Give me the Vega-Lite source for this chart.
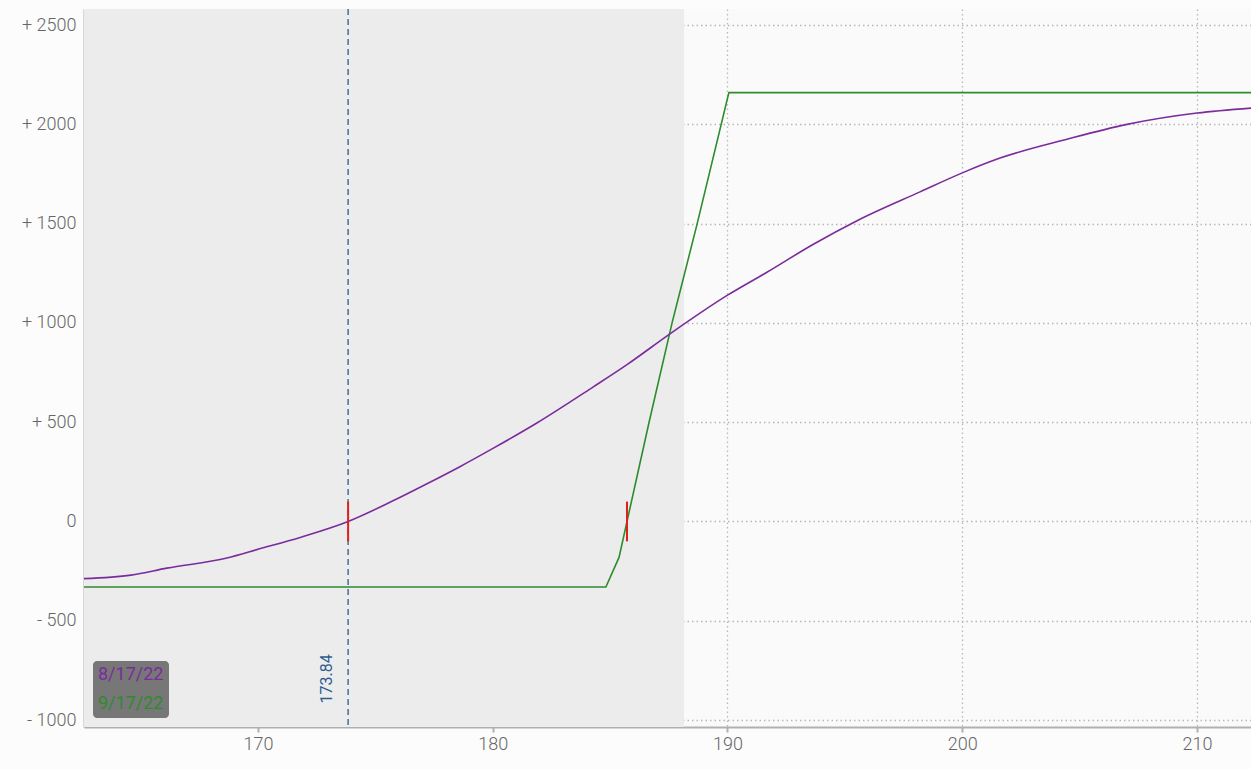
{
  "$schema": "https://vega.github.io/schema/vega-lite/v6.json",
  "width": 1167,
  "height": 718,
  "autosize": {"type": "none"},
  "padding": {"left": 84, "top": 9, "right": 0, "bottom": 42},
  "background": "#fcfcfc",
  "config": {
    "view": {"fill": "#fafafa", "stroke": null},
    "font": "Roboto",
    "axisX": {
      "grid": true, "gridColor": "#b8b8b8", "gridDash": [1.5, 3], "gridWidth": 1.3,
      "domainColor": "#b0b0b0", "domainWidth": 2,
      "tickColor": "#b0b0b0", "tickSize": 5, "tickWidth": 2,
      "labelFont": "Roboto", "labelFontSize": 18, "labelFontWeight": 300, "labelColor": "#666666", "labelPadding": 3,
      "title": null, "zindex": 1
    },
    "axisY": {
      "grid": true, "gridColor": "#b8b8b8", "gridDash": [1.5, 3], "gridWidth": 1.3,
      "domainColor": "#b0b0b0", "domainWidth": 2,
      "ticks": false,
      "labelFont": "Roboto", "labelFontSize": 18, "labelFontWeight": 300, "labelColor": "#666666", "labelPadding": 8,
      "title": null, "zindex": 1
    }
  },
  "datasets": {
    "aug": [
      {"price": 162.59, "pl": -288, "series": "8/17/22"},
      {"price": 164.59, "pl": -270, "series": "8/17/22"},
      {"price": 166.12, "pl": -235, "series": "8/17/22"},
      {"price": 168.68, "pl": -184, "series": "8/17/22"},
      {"price": 170.04, "pl": -139, "series": "8/17/22"},
      {"price": 171.83, "pl": -79, "series": "8/17/22"},
      {"price": 173.84, "pl": 0, "series": "8/17/22"},
      {"price": 175.75, "pl": 104, "series": "8/17/22"},
      {"price": 177.2, "pl": 190, "series": "8/17/22"},
      {"price": 178.6, "pl": 276, "series": "8/17/22"},
      {"price": 180.01, "pl": 368, "series": "8/17/22"},
      {"price": 181.88, "pl": 496, "series": "8/17/22"},
      {"price": 184.27, "pl": 677, "series": "8/17/22"},
      {"price": 185.72, "pl": 790, "series": "8/17/22"},
      {"price": 187.55, "pl": 945, "series": "8/17/22"},
      {"price": 190.02, "pl": 1141, "series": "8/17/22"},
      {"price": 191.68, "pl": 1255, "series": "8/17/22"},
      {"price": 193.64, "pl": 1395, "series": "8/17/22"},
      {"price": 195.52, "pl": 1515, "series": "8/17/22"},
      {"price": 198.2, "pl": 1660, "series": "8/17/22"},
      {"price": 200.03, "pl": 1757, "series": "8/17/22"},
      {"price": 201.61, "pl": 1830, "series": "8/17/22"},
      {"price": 204.46, "pl": 1925, "series": "8/17/22"},
      {"price": 207.02, "pl": 2000, "series": "8/17/22"},
      {"price": 210.0, "pl": 2057, "series": "8/17/22"},
      {"price": 212.3, "pl": 2082, "series": "8/17/22"}
    ],
    "sep": [
      {"price": 162.59, "pl": -330, "series": "9/17/22"},
      {"price": 184.82, "pl": -330, "series": "9/17/22"},
      {"price": 185.38, "pl": -181, "series": "9/17/22"},
      {"price": 185.72, "pl": 0, "series": "9/17/22"},
      {"price": 186.66, "pl": 500, "series": "9/17/22"},
      {"price": 187.64, "pl": 1000, "series": "9/17/22"},
      {"price": 188.71, "pl": 1500, "series": "9/17/22"},
      {"price": 190.06, "pl": 2160, "series": "9/17/22"},
      {"price": 212.3, "pl": 2160, "series": "9/17/22"}
    ],
    "zone": [{"from": 162.59, "to": 188.15}],
    "current": [{"price": 173.84}],
    "breakeven": [{"price": 173.84}, {"price": 185.72}]
  },
  "layer": [
    {
      "data": {"name": "zone"},
      "mark": {"type": "rect", "color": "#ececec"},
      "encoding": {
        "x": {"field": "from", "type": "quantitative", "scale": {"domain": [162.59, 212.3], "nice": false, "zero": false},
              "axis": {"values": [170, 180, 190, 200, 210], "title": null}},
        "x2": {"field": "to"}
      }
    },
    {
      "mark": {"type": "rule", "color": "#bdbdbd", "strokeWidth": 2, "strokeDash": [4, 2]},
      "encoding": {
        "y": {"datum": 0, "type": "quantitative", "scale": {"domain": [-1035, 2581], "nice": false, "zero": false},
              "axis": {"values": [-1000, -500, 0, 500, 1000, 1500, 2000, 2500], "title": null,
                       "labelExpr": "datum.value > 0 ? '+ ' + datum.value : (datum.value < 0 ? '- ' + abs(datum.value) : '0')"}}
      }
    },
    {
      "data": {"name": "current"},
      "mark": {"type": "rule", "color": "#2c5d8f", "strokeWidth": 1.3, "strokeDash": [6, 4]},
      "encoding": {
        "x": {"field": "price", "type": "quantitative"}
      }
    },
    {
      "data": {"name": "sep"},
      "mark": {"type": "line", "strokeWidth": 1.6, "clip": true},
      "encoding": {
        "x": {"field": "price", "type": "quantitative"},
        "y": {"field": "pl", "type": "quantitative"},
        "color": {
          "field": "series", "type": "nominal",
          "scale": {"domain": ["8/17/22", "9/17/22"], "range": ["#7b2c9c", "#2e8b2e"]},
          "legend": {
            "title": null, "orient": "bottom-left", "offset": 9,
            "fillColor": "#777777", "cornerRadius": 4, "padding": 5,
            "symbolSize": 1, "symbolOpacity": 0, "symbolStrokeWidth": 0,
            "labelFont": "Roboto", "labelFontSize": 18, "labelOffset": -18, "rowPadding": 11, "labelLimit": 200,
            "encode": {
              "symbols": {"update": {"size": {"value": 0}}},
              "labels": {"update": {"fill": {"signal": "scale('color', datum.value)"}}}
            }
          }
        }
      }
    },
    {
      "data": {"name": "aug"},
      "mark": {"type": "line", "strokeWidth": 1.6, "clip": true, "interpolate": "monotone"},
      "encoding": {
        "x": {"field": "price", "type": "quantitative"},
        "y": {"field": "pl", "type": "quantitative"},
        "color": {"field": "series", "type": "nominal"}
      }
    },
    {
      "data": {"name": "breakeven"},
      "mark": {"type": "rule", "color": "#e0201c", "strokeWidth": 2},
      "encoding": {
        "x": {"field": "price", "type": "quantitative"},
        "y": {"datum": -100, "type": "quantitative"},
        "y2": {"datum": 100}
      }
    },
    {
      "data": {"name": "current"},
      "mark": {"type": "text", "angle": 270, "align": "center", "baseline": "alphabetic", "dy": -16, "fontSize": 16, "font": "Roboto", "color": "#2c5d8f"},
      "encoding": {
        "x": {"field": "price", "type": "quantitative"},
        "y": {"datum": -793, "type": "quantitative"},
        "text": {"field": "price", "type": "quantitative", "format": ".2f"}
      }
    }
  ]
}
